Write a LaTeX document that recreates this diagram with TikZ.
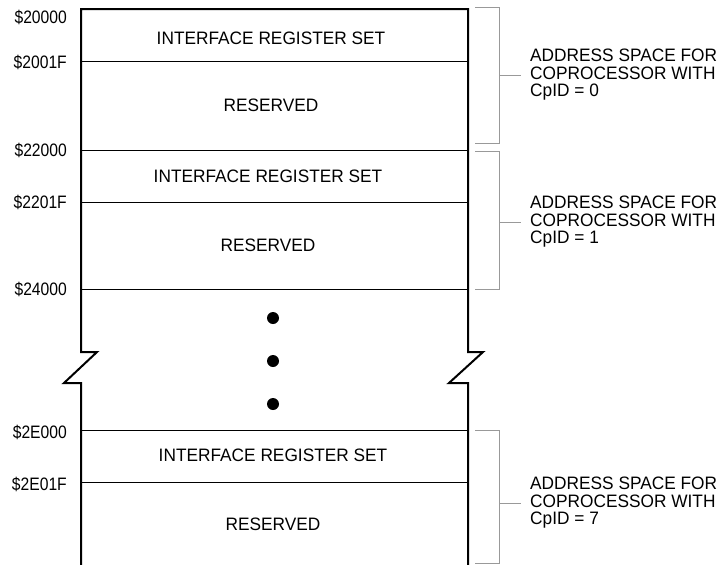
\documentclass[tikz,border=0pt]{standalone}
\usepackage{fontspec}
\setmainfont{Liberation Sans}[FakeStretch=0.96]
\newfontfamily\addrfont{Liberation Sans}[FakeStretch=0.87]
\begin{document}
\begin{tikzpicture}[x=1pt,y=-1pt,
  txt/.style={font=\fontsize{18}{17.5}\selectfont, inner sep=0pt},
  addr/.style={font=\addrfont\fontsize{18}{17.5}\selectfont, inner sep=0pt, anchor=east},
  outer/.style={line width=2pt},
  inner/.style={line width=1pt},
  brk/.style={line width=1pt, draw=gray!80},
  dotmark/.style={circle, fill=black, minimum size=12pt, inner sep=0pt}]
\useasboundingbox (0,0) rectangle (726,565);
% box outline
\coordinate (tl) at (81,9);
\coordinate (tr) at (468,9);
\draw[outer] (81,566) -- (81,383) -- (64,383) -- (97,352) -- (81,352) -- (tl) -- (tr)
  -- (468,352) -- (483,352) -- (449,383) -- (468,383) -- (468,566);
% inner lines
\foreach \y/\n in {61/a,150/b,202/c,289/d,430/e,482/f}{
  \coordinate (L\n) at (81,\y); \coordinate (R\n) at (468,\y);
  \draw[inner] (L\n) -- (R\n);
}
% address labels
\node[addr] (s0) at (67,17) {\$20000};
\node[addr] (s1) at (67,62) {\$2001F};
\node[addr] (s2) at (67,150) {\$22000};
\node[addr] (s3) at (67,202) {\$2201F};
\node[addr] (s4) at (67,289) {\$24000};
\node[addr] (s5) at (67,432) {\$2E000};
\node[addr] (s6) at (67,484) {\$2E01F};
% block texts
\node[txt] (i1) at (271,38) {INTERFACE REGISTER SET};
\node[txt] (r1) at (271,105) {RESERVED};
\node[txt] (i2) at (268,176) {INTERFACE REGISTER SET};
\node[txt] (r2) at (268,245) {RESERVED};
\node[txt] (i3) at (273,455) {INTERFACE REGISTER SET};
\node[txt] (r3) at (273,524) {RESERVED};
% dots
\node[dotmark] (d1) at (273,318) {};
\node[dotmark] (d2) at (273,361) {};
\node[dotmark] (d3) at (273,404) {};
% brackets
\foreach \t/\b/\m/\k in {7/143/75/0,151/289/222/1,430/563/503/7}{
  \draw[brk] (475,\t) -- (499,\t) -- (499,\b) -- (475,\b);
  \draw[brk] (499,\m) -- (521,\m);
  \node[txt, anchor=west, align=left] (lab\k) at (530,\m) {ADDRESS SPACE FOR\\COPROCESSOR WITH\\CpID = \k};
}
\end{tikzpicture}
\end{document}
